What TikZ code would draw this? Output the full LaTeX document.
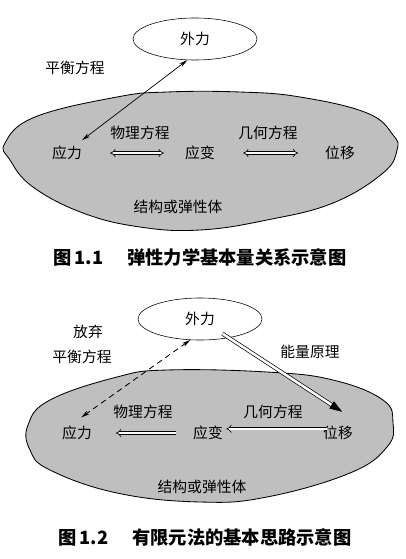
\documentclass[tikz,border=0pt]{standalone}
\usepackage{fontspec}
\setmainfont{Noto Sans CJK SC}
\usetikzlibrary{shapes.geometric,arrows.meta,calc}

\begin{document}
\begin{tikzpicture}[x=0.025cm,y=-0.025cm,
    main/.style = {draw, ellipse, fill=white, minimum width=3.1cm, minimum height=1.05cm, inner sep=0pt, font=\fontsize{10.5}{12}\selectfont},
    lab/.style = {inner sep=0pt, font=\fontsize{10.5}{12}\selectfont},
    body/.style = {draw, fill=black!25, line width=0.6pt},
    hollow/.style = {double, double distance=1.6pt, line width=0.4pt},
    figcap/.style = {font=\fontsize{13}{15}\selectfont\bfseries}]
    \useasboundingbox (0,0) rectangle (406,559);
    % figure 1.1
    \draw[body] plot[smooth cycle, tension=0.7] coordinates {(5,143) (35,117) (117,97) (167,92) (240,92) (300,97) (367,113) (393,135) (397,150) (383,173) (333,203) (267,220) (200,230) (140,227) (83,213) (33,187) (10,160)};
    \node[main] (force1) at (195,39) {外力};
    \node[lab] (stress1) at (67,153) {应力};
    \node[lab] (strain1) at (200,153) {应变};
    \node[lab] (disp1) at (340,153) {位移};
    \node[lab] (eq1) at (75,68) {平衡方程};
    \node[lab] (phys1) at (140,133) {物理方程};
    \node[lab] (geo1) at (268,133) {几何方程};
    \node[lab] (body1) at (178,207) {结构或弹性体};
    \draw[line width=0.5pt, {Stealth[length=6pt,width=3pt]}-{Stealth[length=6pt,width=3pt]}] ([yshift=4pt]stress1.north east) -- (force1.250);
    \draw[hollow, {Implies[scale=1.4]}-{Implies[scale=1.4]}, shorten <=20pt, shorten >=15pt] (stress1) -- (strain1);
    \draw[hollow, {Implies[scale=1.4]}-{Implies[scale=1.4]}, shorten <=20pt, shorten >=19pt] (strain1) -- (disp1);
    \node[figcap] (cap1) at (200,257) {图\,1.1\hspace{1.3em}弹性力学基本量关系示意图};
    % figure 1.2
    \draw[body] plot[smooth cycle, tension=0.7] coordinates {(28,425) (50,400) (117,377) (167,370) (267,372) (333,380) (383,400) (393,423) (387,447) (350,473) (267,497) (200,502) (117,493) (50,470) (30,450)};
    \node[main] (force2) at (200,319) {外力};
    \node[lab] (stress2) at (77,433) {应力};
    \node[lab] (strain2) at (208,433) {应变};
    \node[lab] (disp2) at (338,433) {位移};
    \node[lab] (drop2) at (88,332) {放弃};
    \node[lab] (eq2) at (82,357) {平衡方程};
    \node[lab] (energy2) at (310,352) {能量原理};
    \node[lab] (phys2) at (143,412) {物理方程};
    \node[lab] (geo2) at (273,412) {几何方程};
    \node[lab] (body2) at (202,487) {结构或弹性体};
    \draw[line width=0.6pt, dash pattern=on 4pt off 3pt, {Stealth[length=6pt,width=3pt]}-{Stealth[length=6pt,width=3pt]}] (force2.245) -- ([shift={(3pt,6pt)}]stress2.north);
    \draw[hollow, -{Implies[scale=1.4]}, shorten <=12pt, shorten >=17pt] (strain2) -- (stress2);
    \draw[hollow, -{Implies[scale=1.4]}, shorten <=8pt, shorten >=13pt] ([yshift=3pt]disp2.center) -- ([yshift=3pt]strain2.center);
    \coordinate (tip2) at ([shift={(3pt,10pt)}]disp2.north);
    \draw[hollow, line width=0.5pt, double distance=1.8pt, shorten <=19pt, shorten >=7pt] (force2.center) -- (tip2);
    \draw[-{Triangle[length=9pt,width=6pt]}] ($(tip2)!9pt!(force2.center)$) -- (tip2);
    \node[figcap] (cap2) at (205,537) {图\,1.2\hspace{1.3em}有限元法的基本思路示意图};
\end{tikzpicture}
\end{document}
